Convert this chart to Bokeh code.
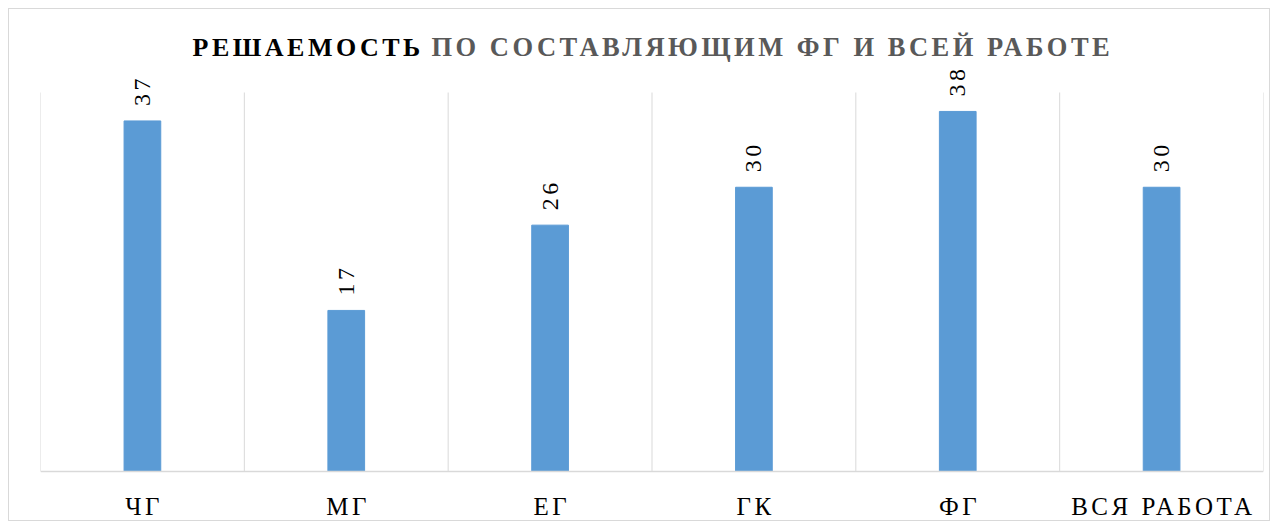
import math
from bokeh.plotting import figure
from bokeh.models import ColumnDataSource, Label, LabelSet, Span, Range1d, FactorRange
from bokeh.embed import file_html
from bokeh.resources import INLINE
from bokeh.core.properties import value

categories = ["ЧГ", "МГ", "ЕГ", "ГК", "ФГ", "ВСЯ РАБОТА"]
values = [37, 17, 26, 30, 38, 30]
value_labels = [str(v) for v in values]
title_bold = "РЕШАЕМОСТЬ"
title_rest = "ПО СОСТАВЛЯЮЩИМ ФГ И ВСЕЙ РАБОТЕ"

FONT = "Liberation Serif"
BAR = "#5B9BD5"
GRID = "#d9d9d9"
SP = 3.5  # letter spacing in px (inherited by all SVG texts)
W, H = 1262, 513
Y_MAX = 40
# pixel layout of the value area inside the canvas
AREA_TOP, AREA_BOTTOM = 83, 462
px_per = (AREA_BOTTOM - AREA_TOP) / Y_MAX
y_start = -(H - AREA_BOTTOM) / px_per
y_end = Y_MAX + AREA_TOP / px_per

src = ColumnDataSource(dict(
    cat=categories, val=values, lbl=value_labels,
    zero=[0] * len(categories),
    xoff=[-(len(c) - 1) * SP / 2 for c in categories],
))
n = len(categories)
grid_src = ColumnDataSource(dict(
    x=list(range(n + 1)), y0=[0] * (n + 1), y1=[Y_MAX] * (n + 1),
))

p = figure(x_range=FactorRange(*categories), y_range=Range1d(y_start, y_end),
           width=W, height=H, output_backend="svg", toolbar_location=None,
           min_border_left=31, min_border_right=8, min_border_top=0, min_border_bottom=0,
           styles={"border": "1px solid #d9d9d9", "letter-spacing": f"{SP}px",
                   "margin-left": "8px", "margin-top": "8px"})
p.outline_line_color = None
p.background_fill_color = "white"
p.border_fill_color = "white"
p.xgrid.visible = False
p.ygrid.visible = False
p.yaxis.visible = False
p.xaxis.visible = False

p.segment(x0="x", x1="x", y0="y0", y1="y1", source=grid_src, line_color=GRID, line_width=1)
p.add_layout(Span(location=0, dimension="width", line_color=GRID, line_width=1.5))

p.vbar(x="cat", top="val", width=0.18, source=src, color=BAR)

p.add_layout(LabelSet(x="cat", y="val", text="lbl", source=src, angle=math.pi / 2,
                      text_align="left", text_baseline="middle", y_offset=15,
                      text_font=value(FONT), text_font_size=value("24px"),
                      text_color=value("#000000")))

p.add_layout(LabelSet(x="cat", y="zero", text="cat", source=src, x_offset="xoff",
                      y_offset=-43, text_align="center", text_baseline="alphabetic",
                      text_font=value(FONT), text_font_size=value("25px"),
                      text_color=value("#000000")))

TITLE_FONT = "'Liberation Serif', 'Times New Roman', serif"
TITLE_Y = H - 37.5
p.add_layout(Label(x=152, y=TITLE_Y, x_units="screen", y_units="screen", text=title_bold,
                   text_font=TITLE_FONT, text_font_size="26px", text_font_style="bold",
                   text_color="#000000", text_baseline="alphabetic", text_align="left"))
p.add_layout(Label(x=391, y=TITLE_Y, x_units="screen", y_units="screen", text=title_rest,
                   text_font=TITLE_FONT, text_font_size="26.5px", text_font_style="bold",
                   text_color="#595959", text_baseline="alphabetic", text_align="left"))

open("out.html", "w").write(file_html(p, INLINE))
